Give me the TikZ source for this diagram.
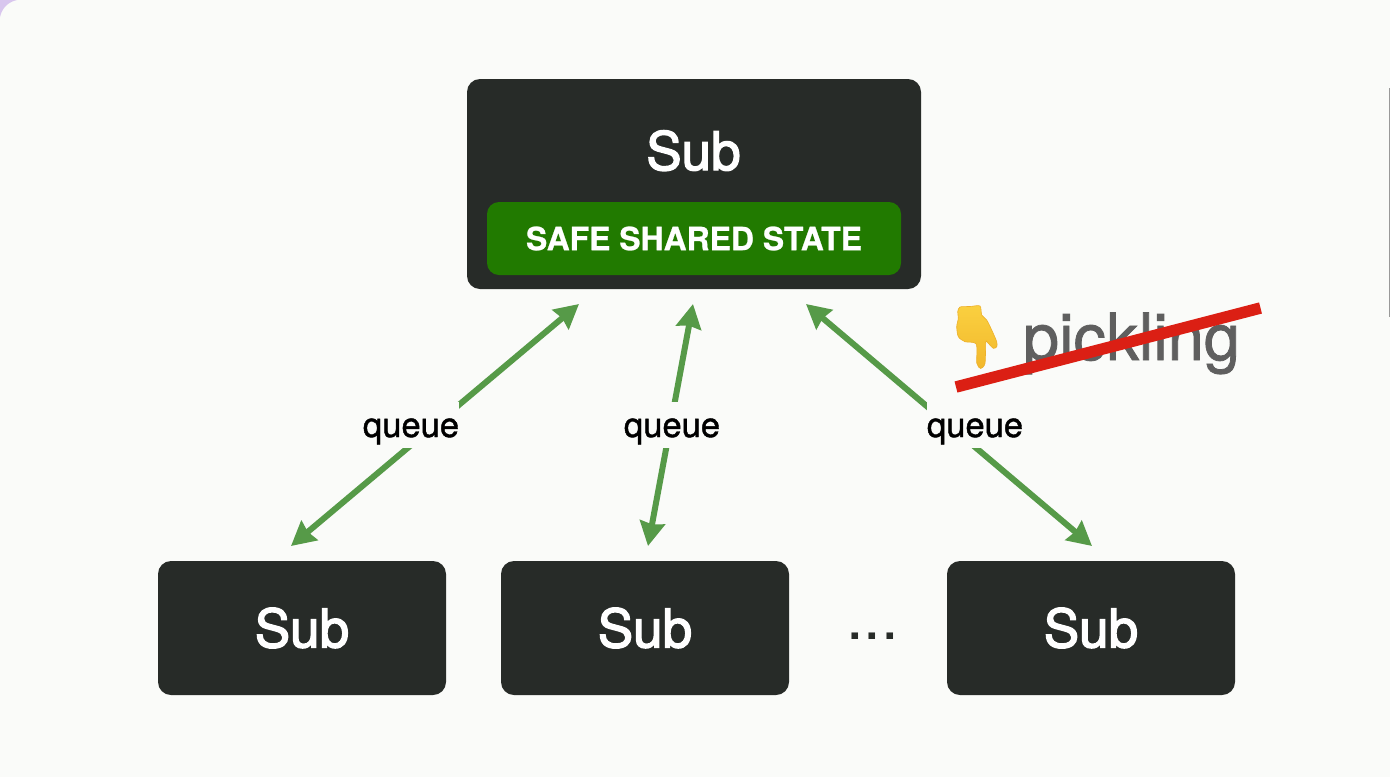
\documentclass[tikz,border=0pt]{standalone}
\usepackage{fontspec}
\setmainfont{TeX Gyre Heros}
\newfontfamily\heavierfont[FakeBold=2.6,BoldFont={TeX Gyre Heros}]{TeX Gyre Heros}
\newfontfamily\slightfont[FakeBold=1.2]{TeX Gyre Heros}
\newfontfamily\safefont[FakeBold=0.8]{TeX Gyre Heros Bold}
\usetikzlibrary{arrows.meta}
\definecolor{pagebg}{HTML}{FAFBF9}
\definecolor{boxdark}{HTML}{272B28}
\definecolor{safegreen}{HTML}{217A00}
\definecolor{arrowgreen}{HTML}{569A48}
\definecolor{strikered}{HTML}{DB1F14}
\definecolor{pickgray}{HTML}{5F5F5F}
\definecolor{cornerpurple}{HTML}{D8C6EE}
\definecolor{handlight}{HTML}{FAD040}
\definecolor{handdark}{HTML}{F2B82C}
\definecolor{handedge}{HTML}{EDB02A}
\tikzset{
  x=1pt,y=-1pt,
  subbox/.style={fill=boxdark,text=white,rounded corners=13pt,inner sep=0pt,minimum width=288pt,minimum height=134pt,font=\heavierfont\fontsize{53}{60}\selectfont},
  safebox/.style={fill=safegreen,text=white,rounded corners=12pt,inner sep=0pt,minimum width=414pt,minimum height=73pt,font=\safefont\fontsize{31.9}{36}\selectfont},
  link/.style={draw=arrowgreen,line width=6pt,{Stealth[length=24pt,width=25pt,inset=2pt]}-{Stealth[length=24pt,width=25pt,inset=2pt]}},
  linklabel/.style={fill=pagebg,text=black,anchor=base,inner xsep=0pt,inner ysep=0pt,text height=35pt,text depth=11pt,font=\slightfont\fontsize{34.5}{40}\selectfont},
}
\begin{document}
\begin{tikzpicture}
\useasboundingbox (0,0) rectangle (1390,777);
\fill[pagebg] (0,0) rectangle (1390,777);
\fill[cornerpurple] (0,0) -- (17,0) .. controls (8,2) and (2,8) .. (0,17) -- cycle;
\fill[black!40] (1388.5,88) rectangle (1390,317);

\node[subbox,minimum width=454pt,minimum height=210pt] (top) at (694,184) {};
\node[anchor=base,text=white,font=\heavierfont\fontsize{53}{60}\selectfont] (toplabel) at (693.5,170) {Sub};
\node[safebox] (safe) at (694,238.5) {SAFE SHARED STATE};
\node[subbox] (left) at (302,628) {Sub};
\node[subbox] (mid) at (645,628) {Sub};
\node[subbox] (right) at (1091,628) {Sub};
\node[anchor=base,font=\fontsize{63}{63}\selectfont,text=boxdark] (dots) at (872.5,639) {...};

\coordinate (t1) at (579,304);
\coordinate (b1) at (291,546);
\coordinate (t2) at (693,304);
\coordinate (b2) at (648,546);
\coordinate (t3) at (806,304);
\coordinate (b3) at (1092,546);
\draw[link] (t1) -- (b1);
\draw[link] (t2) -- (b2);
\draw[link] (t3) -- (b3);
\node[linklabel] (q1) at (411,437) {queue};
\node[linklabel] (q2) at (672,437) {queue};
\node[linklabel] (q3) at (975,437) {queue};

\shade[top color=handlight,bottom color=handdark,draw=handedge,line width=0.6pt]
  plot[smooth cycle,tension=0.45] coordinates {
  (960,307) (970,306.5) (980,306) (981.7,315) (986.7,320) (991.7,330) (996.7,341.7)
  (996.7,346.7) (993.3,348.3) (987.7,342.7) (985.8,342) (985,363.3) (980.7,368.5)
  (976.8,363.3) (976.2,344) (965,341.7) (958.3,336.7) (956.7,326.7) (958.3,318.3) (957.7,311.7)};

\node[anchor=base,text=pickgray,font=\slightfont\fontsize{65}{70}\selectfont] (pick) at (1131.5,360) {pickling};
\coordinate (s1) at (956,387);
\coordinate (s2) at (1260.5,308);
\draw[strikered,line width=11.5pt] (s1) -- (s2);
\end{tikzpicture}
\end{document}
